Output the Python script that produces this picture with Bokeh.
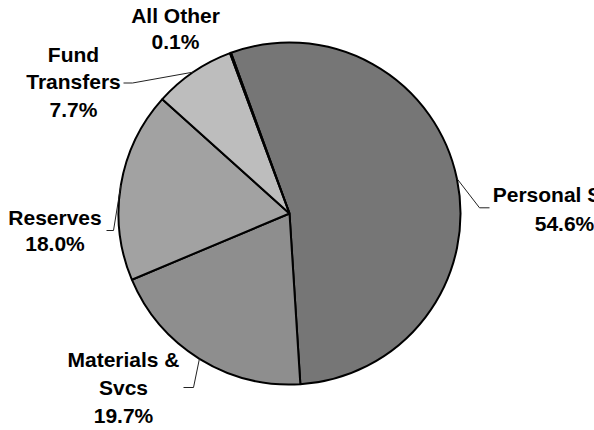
import numpy as np
from bokeh.plotting import figure
from bokeh.models import ColumnDataSource, Range1d
from bokeh.embed import file_html
from bokeh.resources import INLINE
from bokeh.core.properties import value

# Budget shares by category (percent)
categories = ["Personal Svcs", "Materials & Svcs", "Reserves", "Fund Transfers", "All Other"]
shares = [54.6, 19.7, 18.0, 7.7, 0.1]
name_lines = [["Personal Svcs"], ["Materials &", "Svcs"], ["Reserves"], ["Fund", "Transfers"], ["All Other"]]
slice_colors = ["#767676", "#8e8e8e", "#a2a2a2", "#bdbdbd", "#dadada"]

# Canvas / pie geometry (pixel coordinates, y measured downwards)
W, H = 594, 430
CX, CY, R = 289, 213, 171
START_DEG = -20.0  # first slice starts 20 degrees left of 12 o'clock, runs clockwise

# Label placement: centre x, first line y, line step
label_cx = [564, 123, 54.5, 73, 175]
label_y0 = [193.5, 358.5, 216.5, 53.5, 14.5]
label_step = [29.5, 28.0, 26.5, 27.5, 26.3]
# Leader elbows and ends (None = no leader)
leader_elbow = [(479, 207.3), (193, 387), (113, 230), (132, 82.5), None]
leader_end = [(489, 207.3), (183, 387), (106, 230), (123, 82.5), None]


def fy(y_px):
    return H - y_px


vals = np.array(shares, dtype=float)
sweep = vals / vals.sum() * 360.0
ends_cw = START_DEG + np.cumsum(sweep)
starts_cw = ends_cw - sweep
mids_cw = (starts_cw + ends_cw) / 2.0

src = ColumnDataSource(dict(
    x=[CX] * len(categories),
    y=[fy(CY)] * len(categories),
    start=np.radians(90.0 - starts_cw),
    end=np.radians(90.0 - ends_cw),
    color=slice_colors,
    name=categories,
))

p = figure(width=W, height=H, x_range=Range1d(0, W), y_range=Range1d(0, H),
           output_backend="svg", toolbar_location=None, min_border=0,
           x_axis_type=None, y_axis_type=None)
p.grid.visible = False
p.outline_line_color = None
p.background_fill_color = "white"
p.border_fill_color = "white"

p.wedge(x="x", y="y", radius=R, start_angle="start", end_angle="end",
        direction="clock", fill_color="color", line_color="black",
        line_width=2, source=src)

# Leader lines from slice mid-angle on the rim to the label
for i in range(len(categories)):
    if leader_elbow[i] is None:
        continue
    a = np.radians(mids_cw[i])
    ex = CX + R * np.sin(a)
    ey = CY - R * np.cos(a)
    xs = [ex, leader_elbow[i][0], leader_end[i][0]]
    ys = [fy(ey), fy(leader_elbow[i][1]), fy(leader_end[i][1])]
    p.line(xs, ys, line_color="#222222", line_width=1)

# Labels: category name lines followed by the percentage
tx, ty, tt = [], [], []
for i in range(len(categories)):
    lines = name_lines[i] + [f"{shares[i]:.1f}%"]
    for k, s in enumerate(lines):
        tx.append(label_cx[i])
        ty.append(fy(label_y0[i] + k * label_step[i]))
        tt.append(s)

p.text(x=tx, y=ty, text=tt, text_font=value("Liberation Sans"),
       text_font_style="bold", text_font_size="21px", text_color="black",
       text_align="center", text_baseline="alphabetic")

open("out.html", "w").write(file_html(p, INLINE))
